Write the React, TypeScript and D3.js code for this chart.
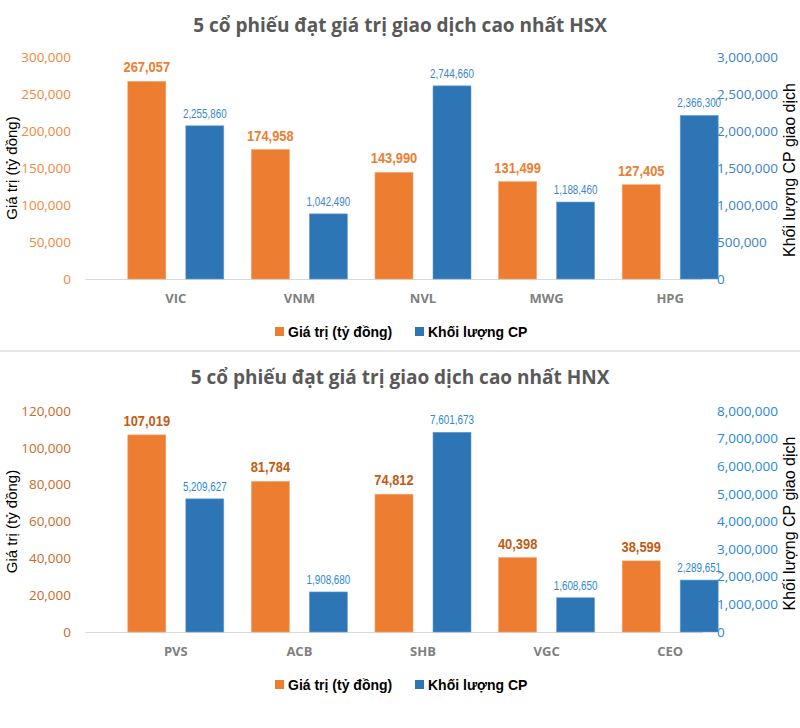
import React from "react";
import * as d3 from "d3";

// ---- Data ----
const hsxCategories = ["VIC", "VNM", "NVL", "MWG", "HPG"];
const hsxValue = [267057, 174958, 143990, 131499, 127405];
const hsxVolumeBar = [2070000, 880000, 2610000, 1040000, 2210000];
const hsxValueLabels = ["267,057", "174,958", "143,990", "131,499", "127,405"];
const hsxVolumeLabels = ["2,255,860", "1,042,490", "2,744,660", "1,188,460", "2,366,300"];
const hsxLeftTicks = [0, 50000, 100000, 150000, 200000, 250000, 300000];
const hsxRightTicks = [0, 500000, 1000000, 1500000, 2000000, 2500000, 3000000];

const hnxCategories = ["PVS", "ACB", "SHB", "VGC", "CEO"];
const hnxValue = [107019, 81784, 74812, 40398, 38599];
const hnxVolumeBar = [4820000, 1450000, 7230000, 1240000, 1880000];
const hnxValueLabels = ["107,019", "81,784", "74,812", "40,398", "38,599"];
const hnxVolumeLabels = ["5,209,627", "1,908,680", "7,601,673", "1,608,650", "2,289,651"];
const hnxLeftTicks = [0, 20000, 40000, 60000, 80000, 100000, 120000];
const hnxRightTicks = [0, 1000000, 2000000, 3000000, 4000000, 5000000, 6000000, 7000000, 8000000];

const ORANGE = "#ED7D31";
const BLUE = "#2E75B6";
const fmt = d3.format(",");

type ChartProps = {
  title: string;
  categories: string[];
  values: number[];
  volumes: number[];
  valueLabels: string[];
  volumeLabels: string[];
  leftTicks: number[];
  rightTicks: number[];
  top: number;
  bottom: number;
  titleY: number;
  leftTickColor: string;
  rightTickColor: string;
  valueLabelColor: string;
  volumeLabelColor: string;
};

function Chart(p: ChartProps) {
  const x = d3.scaleBand<string>().domain(p.categories).range([114, 732]);
  const yL = d3.scaleLinear().domain([0, d3.max(p.leftTicks)!]).range([p.bottom, p.top]);
  const yR = d3.scaleLinear().domain([0, d3.max(p.rightTicks)!]).range([p.bottom, p.top]);
  const bw = 38;
  const half = 10;
  const legendY = p.bottom + 53;
  const midY = (p.top + p.bottom) / 2;
  return (
    <g>
      <text x={400} y={p.titleY} textAnchor="middle" fontFamily="'Open Sans', sans-serif" fontWeight={700} fontSize={19} fill="#595959">
        {p.title}
      </text>
      {p.leftTicks.map((t) => (
        <text key={"l" + t} x={71} y={yL(t)} dy="0.35em" textAnchor="end" fontFamily="'Open Sans', sans-serif" fontSize={13.5} fill={p.leftTickColor}>
          {fmt(t)}
        </text>
      ))}
      {p.rightTicks.map((t) => (
        <text key={"r" + t} x={717} y={yR(t)} dy="0.35em" textAnchor="start" fontFamily="'Open Sans', sans-serif" fontSize={13.5} fill={p.rightTickColor}>
          {fmt(t)}
        </text>
      ))}
      <text transform={`translate(17,${midY}) rotate(-90)`} textAnchor="middle" fontFamily="'Liberation Sans', Arial, sans-serif" fontSize={15} fill="#000">
        Giá trị (tỷ đồng)
      </text>
      <text transform={`translate(795,${midY + 2}) rotate(-90)`} textAnchor="middle" fontFamily="'Liberation Sans', Arial, sans-serif" fontSize={16} fill="#000">
        Khối lượng CP giao dịch
      </text>
      <line x1={85} x2={703} y1={p.bottom + 0.5} y2={p.bottom + 0.5} stroke="#D9D9D9" strokeWidth={1} />
      {p.categories.map((c, i) => {
        const cx = x(c)! + x.bandwidth() / 2;
        return (
          <g key={c}>
            <rect x={cx - half - bw} y={yL(p.values[i])} width={bw} height={p.bottom - yL(p.values[i])} fill={ORANGE} stroke="#F4A470" strokeWidth={0.6} />
            <rect x={cx + half} y={yR(p.volumes[i])} width={bw} height={p.bottom - yR(p.volumes[i])} fill={BLUE} stroke="#6A9FD4" strokeWidth={0.6} />
            <g transform={`translate(${cx - half - bw / 2},${yL(p.values[i]) - 9}) scale(0.86,1)`}>
              <text x={0} y={0} textAnchor="middle" fontFamily="'Liberation Sans', Arial, sans-serif" fontWeight={700} fontSize={15} fill={p.valueLabelColor}>
                {p.valueLabels[i]}
              </text>
            </g>
            <g transform={`translate(${cx + half + bw / 2},${yR(p.volumes[i]) - 8}) scale(0.82,1)`}>
              <text x={0} y={0} textAnchor="middle" fontFamily="'Liberation Sans', Arial, sans-serif" fontSize={12} fill={p.volumeLabelColor}>
                {p.volumeLabels[i]}
              </text>
            </g>
            <text x={cx} y={p.bottom + 24} textAnchor="middle" fontFamily="'Open Sans', sans-serif" fontWeight={700} fontSize={13} fill="#7F7F7F">
              {c}
            </text>
          </g>
        );
      })}
      <rect x={275} y={legendY - 5} width={9} height={9} fill={ORANGE} />
      <text x={288} y={legendY + 5} fontFamily="'Liberation Sans', Arial, sans-serif" fontWeight={700} fontSize={14} fill="#000">
        Giá trị (tỷ đồng)
      </text>
      <rect x={415} y={legendY - 5} width={9} height={9} fill={BLUE} />
      <text x={428} y={legendY + 5} fontFamily="'Liberation Sans', Arial, sans-serif" fontWeight={700} fontSize={14} fill="#000">
        Khối lượng CP
      </text>
    </g>
  );
}

export default function App() {
  return (
    <svg width={800} height={728} style={{ position: "absolute", left: 0, top: 0, background: "#fff" }}>
      <rect x={0} y={0} width={800} height={728} fill="#fff" />
      <Chart
        title="5 cổ phiếu đạt giá trị giao dịch cao nhất HSX"
        categories={hsxCategories}
        values={hsxValue}
        volumes={hsxVolumeBar}
        valueLabels={hsxValueLabels}
        volumeLabels={hsxVolumeLabels}
        leftTicks={hsxLeftTicks}
        rightTicks={hsxRightTicks}
        top={57}
        bottom={279}
        titleY={32}
        leftTickColor="#F0883A"
        rightTickColor="#3C82C4"
        valueLabelColor={ORANGE}
        volumeLabelColor="#3A86CC"
      />
      <rect x={0} y={350} width={800} height={2} fill="#E6E6E6" />
      <Chart
        title="5 cổ phiếu đạt giá trị giao dịch cao nhất HNX"
        categories={hnxCategories}
        values={hnxValue}
        volumes={hnxVolumeBar}
        valueLabels={hnxValueLabels}
        volumeLabels={hnxVolumeLabels}
        leftTicks={hnxLeftTicks}
        rightTicks={hnxRightTicks}
        top={411}
        bottom={632}
        titleY={384}
        leftTickColor="#CC6A28"
        rightTickColor="#2A88D8"
        valueLabelColor="#C55A11"
        volumeLabelColor="#2A88D8"
      />
    </svg>
  );
}
